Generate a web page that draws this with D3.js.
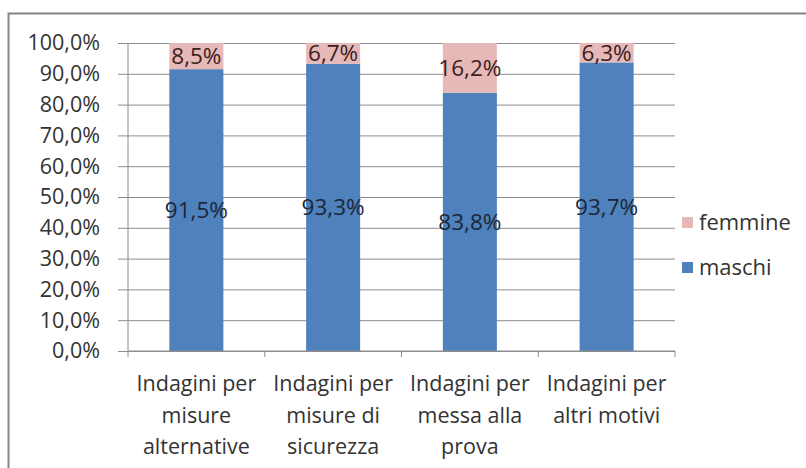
<!DOCTYPE html>
<html>
<head>
<meta charset="utf-8">
<script src="https://cdn.jsdelivr.net/npm/d3@7"></script>
<style>
  body { margin: 0; background: white; }
  text { font-family: "Open Sans", sans-serif; }
</style>
</head>
<body>
<div id="chart"></div>
<script>
var categories = [
    ["Indagini per", "misure", "alternative"],
    ["Indagini per", "misure di", "sicurezza"],
    ["Indagini per", "messa alla", "prova"],
    ["Indagini per", "altri motivi"]
];
var maschi = [91.5, 93.3, 83.8, 93.7];
var femmine = [8.5, 6.7, 16.2, 6.3];
var yTicks = [0, 10, 20, 30, 40, 50, 60, 70, 80, 90, 100];
var seriesNames = ["femmine", "maschi"];

var width = 806, height = 468;
var margin = { top: 43, left: 128, right: 131, bottom: 117 };
var plotW = width - margin.left - margin.right,
    plotH = height - margin.top - margin.bottom;

var blue = '#4f81bd', pink = '#e6b9b8', grid = '#8c8c8c';

function fmt(v) { return v.toFixed(1).replace('.', ',') + '%'; }

var svg = d3.select('#chart').append('svg')
    .attr('width', width)
    .attr('height', height);

// outer chart border (only left and top are inside the picture)
svg.append('rect')
    .attr('x', 8.5).attr('y', 13.5)
    .attr('width', 900).attr('height', 600)
    .attr('fill', 'none')
    .attr('stroke', '#858585')
    .attr('stroke-width', 2);

var graph = svg.append('g')
    .attr('transform', 'translate(' + margin.left + ',' + margin.top + ')');

var x = d3.scaleBand()
    .domain(d3.range(categories.length))
    .range([0, plotW])
    .paddingInner(0.605)
    .paddingOuter(0.3025);
var xTick = d3.scaleLinear().domain([0, categories.length]).range([0, plotW]);
var y = d3.scaleLinear().domain([0, 100]).range([plotH, 0]);

// gridlines + y axis
var yAxis = graph.append('g')
    .call(d3.axisLeft(y).tickValues(yTicks).tickSize(-plotW).tickSizeOuter(0).tickPadding(28)
        .tickFormat(function(d) { return fmt(d); }));
yAxis.select('.domain').remove();
yAxis.selectAll('.tick line')
    .attr('x1', -10)
    .attr('stroke', grid);
yAxis.selectAll('.tick text')
    .attr('fill', '#333')
    .style('font-size', '21.5px')
    .style('font-family', '"Open Sans", sans-serif');
graph.append('line')
    .attr('x1', 0).attr('x2', 0)
    .attr('y1', 0).attr('y2', plotH)
    .attr('stroke', grid);

// bars
graph.selectAll('rect.m')
    .data(maschi)
    .enter().append('rect')
    .attr('class', 'm')
    .attr('x', function(d, i) { return x(i); })
    .attr('width', x.bandwidth())
    .attr('y', function(d) { return y(d); })
    .attr('height', function(d) { return plotH - y(d); })
    .attr('fill', blue);
graph.selectAll('rect.f')
    .data(femmine)
    .enter().append('rect')
    .attr('class', 'f')
    .attr('x', function(d, i) { return x(i); })
    .attr('width', x.bandwidth())
    .attr('y', function(d, i) { return y(maschi[i] + d); })
    .attr('height', function(d, i) { return y(maschi[i]) - y(maschi[i] + d); })
    .attr('fill', pink);

// data labels
graph.selectAll('text.lm')
    .data(maschi)
    .enter().append('text')
    .attr('x', function(d, i) { return x(i) + x.bandwidth() / 2; })
    .attr('y', function(d) { return y(d / 2); })
    .attr('dy', '0.35em')
    .attr('text-anchor', 'middle')
    .attr('fill', '#1c2636')
    .style('font-size', '22.5px')
    .text(fmt);
graph.selectAll('text.lf')
    .data(femmine)
    .enter().append('text')
    .attr('x', function(d, i) { return x(i) + x.bandwidth() / 2; })
    .attr('y', function(d, i) { return y(maschi[i] + d / 2); })
    .attr('dy', '0.35em')
    .attr('text-anchor', 'middle')
    .attr('fill', '#3a2020')
    .style('font-size', '22.5px')
    .text(fmt);

// category axis
graph.append('line')
    .attr('x1', 0).attr('x2', plotW)
    .attr('y1', plotH).attr('y2', plotH)
    .attr('stroke', grid);
graph.selectAll('line.ct')
    .data(d3.range(categories.length + 1))
    .enter().append('line')
    .attr('x1', function(d) { return xTick(d); })
    .attr('x2', function(d) { return xTick(d); })
    .attr('y1', plotH).attr('y2', plotH + 6)
    .attr('stroke', grid);
var cat = graph.selectAll('text.cat')
    .data(categories)
    .enter().append('text')
    .attr('text-anchor', 'middle')
    .attr('fill', '#333')
    .style('font-size', '21.5px')
    .attr('transform', function(d, i) {
        return 'translate(' + (x(i) + x.bandwidth() / 2) + ',' + (plotH + 40) + ')';
    });
cat.selectAll('tspan')
    .data(function(d) { return d; })
    .enter().append('tspan')
    .attr('x', 0)
    .attr('y', function(d, j) { return j * 31.5; })
    .text(function(d) { return d; });

// legend
var legend = svg.append('g')
    .attr('transform', 'translate(682,217)');
var items = legend.selectAll('g')
    .data(seriesNames)
    .enter().append('g')
    .attr('transform', function(d, i) { return 'translate(0,' + (i * 45) + ')'; });
items.append('rect')
    .attr('width', 11).attr('height', 11)
    .attr('fill', function(d, i) { return i === 0 ? pink : blue; });
items.append('text')
    .attr('x', 17).attr('y', 5.5)
    .attr('dy', '0.35em')
    .attr('fill', '#333')
    .style('font-size', '22px')
    .text(function(d) { return d; });
</script>
</body>
</html>
